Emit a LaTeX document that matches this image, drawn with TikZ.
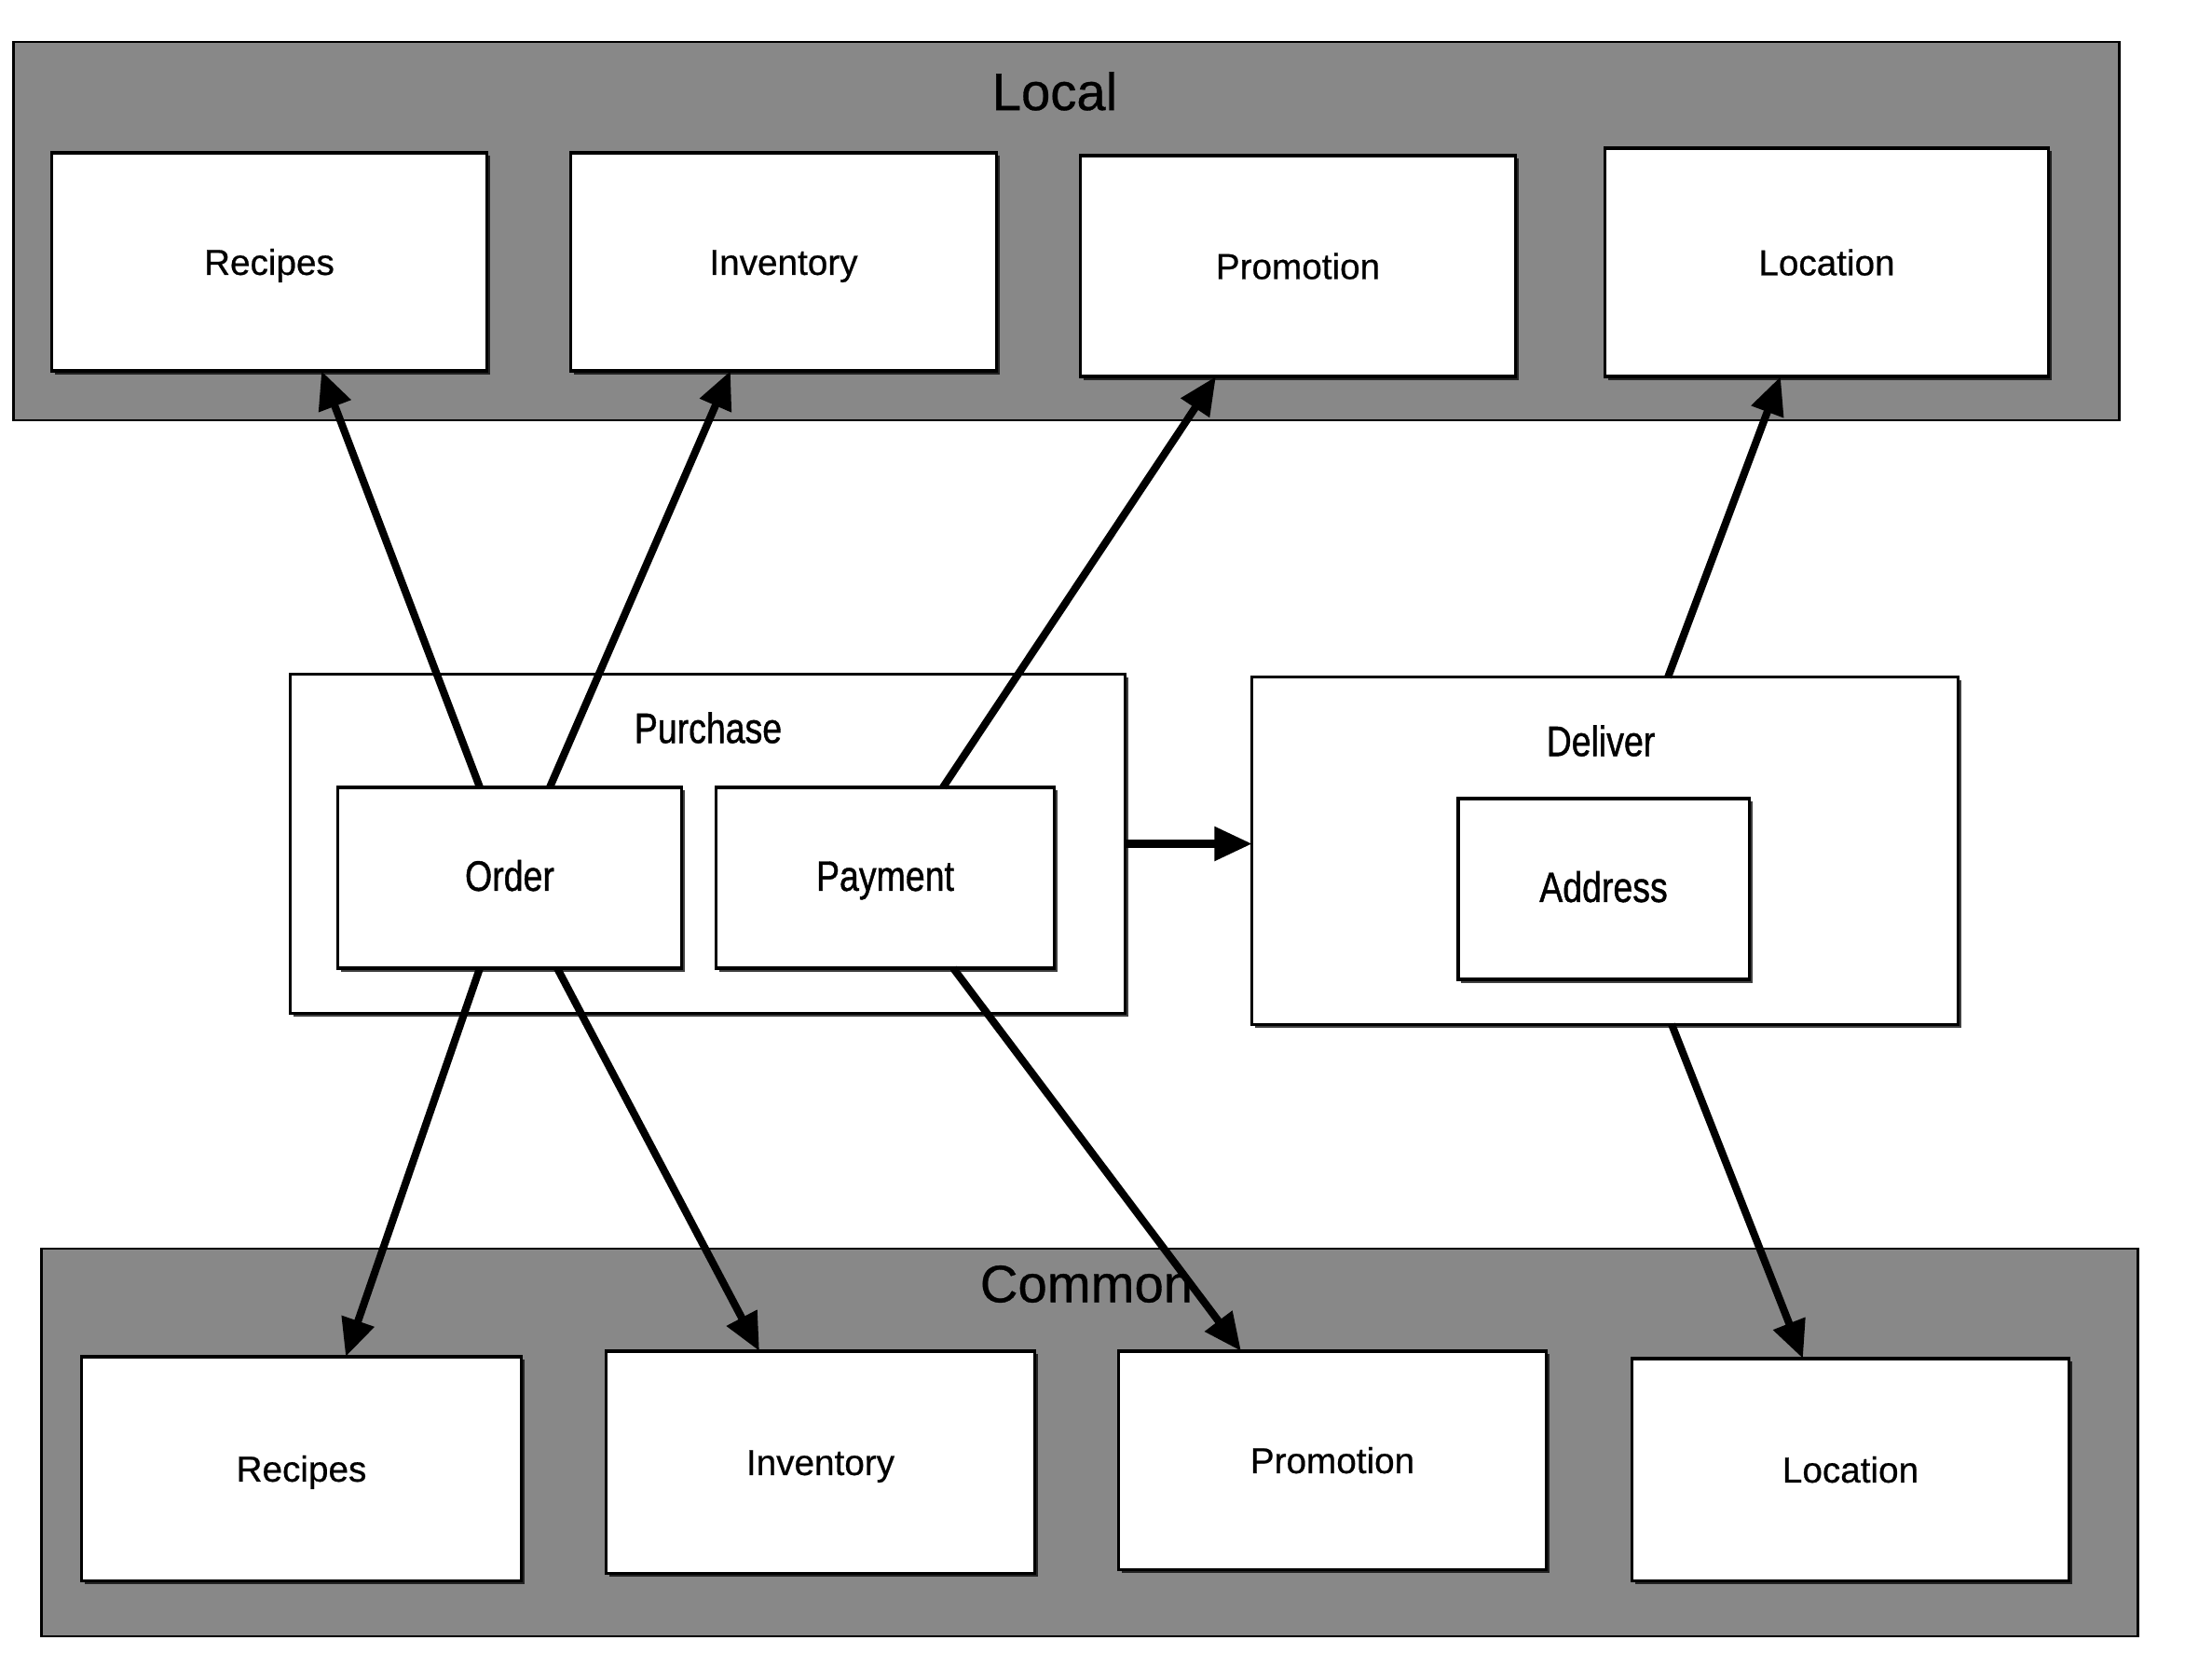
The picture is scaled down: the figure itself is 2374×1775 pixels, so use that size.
\documentclass[tikz,border=0pt]{standalone}
\usepackage{fontspec}
\setmainfont{Liberation Sans}[FakeBold=0.6]
\newfontfamily\condfont[FakeStretch=0.82,FakeBold=0.9]{Liberation Sans}
\usetikzlibrary{arrows.meta,shadows}
\definecolor{bandgray}{RGB}{136,136,136}
\begin{document}
\begin{tikzpicture}[x=0.01cm,y=-0.01cm,
  band/.style={draw=black, line width=0.7pt, fill=bandgray, inner sep=0pt, outer sep=0pt},
  box/.style={draw=black, line width=0.9pt, fill=white, inner sep=0pt, outer sep=0pt,
    font=\fontsize{11}{13}\selectfont, text height=1.6ex, text depth=0.1ex,
    drop shadow={shadow xshift=0.035cm, shadow yshift=-0.035cm, opacity=0.75, fill=black}},
  cbox/.style={box, font=\condfont\fontsize{13}{15}\selectfont},
  title/.style={font=\fontsize{16}{19}\selectfont, inner sep=0pt},
  ctitle/.style={font=\condfont\fontsize{13}{15}\selectfont, inner sep=0pt},
  arr/.style={line width=2.3pt, -{Triangle[length=11.5pt,width=10pt]}}]
\useasboundingbox (0,0) rectangle (2374,1775);
\fill[white] (0,0) rectangle (2374,1775);
% bands
\node[band, minimum width=22.59cm, minimum height=4.06cm] (localband) at (1144.5,248) {};
\node[band, minimum width=22.49cm, minimum height=4.16cm] (commonband) at (1169.5,1548) {};
\node[title] (localT) at (1132,98) {Local};
\node[title] (commonT) at (1166,1378) {Common};
% top boxes
\node[box, minimum width=4.66cm, minimum height=2.34cm] (recL) at (289,281) {Recipes};
\node[box, minimum width=4.56cm, minimum height=2.34cm] (invL) at (841,281) {Inventory};
\node[box, minimum width=4.66cm, minimum height=2.37cm] (proL) at (1393,285.5) {Promotion};
\node[box, minimum width=4.75cm, minimum height=2.45cm] (locL) at (1960.5,281.5) {Location};
% middle
\node[box, minimum width=8.95cm, minimum height=3.63cm] (purchase) at (759.5,905.5) {};
\node[ctitle] (purchaseT) at (760,781) {Purchase};
\node[cbox, minimum width=3.68cm, minimum height=1.94cm] (order) at (547,942) {Order};
\node[cbox, minimum width=3.62cm, minimum height=1.94cm] (payment) at (950,942) {Payment};
\node[box, minimum width=7.57cm, minimum height=3.72cm] (deliver) at (1722.5,913) {};
\node[ctitle] (deliverT) at (1718,795) {Deliver};
\node[cbox, minimum width=3.12cm, minimum height=1.94cm] (address) at (1721,954) {Address};
% bottom boxes
\node[box, minimum width=4.71cm, minimum height=2.40cm] (recC) at (323.5,1576) {Recipes};
\node[box, minimum width=4.59cm, minimum height=2.38cm] (invC) at (880.5,1569) {Inventory};
\node[box, minimum width=4.58cm, minimum height=2.34cm] (proC) at (1430,1567) {Promotion};
\node[box, minimum width=4.68cm, minimum height=2.38cm] (locC) at (1986,1577) {Location};
% arrows up
\draw[arr] ([xshift=-0.32cm]order.north) -- ([xshift=0.56cm]recL.south);
\draw[arr] ([xshift=0.43cm]order.north) -- ([xshift=-0.57cm]invL.south);
\draw[arr] ([xshift=0.62cm]payment.north) -- ([xshift=-0.88cm]proL.south);
\draw[arr] ([xshift=0.675cm]deliver.north) -- ([xshift=-0.495cm]locL.south);
% purchase -> deliver
\draw[arr] (purchase.east) -- (purchase.east -| deliver.west);
% arrows down
\draw[arr] ([xshift=-0.32cm]order.south) -- ([xshift=0.475cm]recC.north);
\draw[arr] ([xshift=0.51cm]order.south) -- ([xshift=-0.655cm]invC.north);
\draw[arr] ([xshift=0.73cm]payment.south) -- ([xshift=-0.98cm]proC.north);
\draw[arr] ([xshift=0.715cm]deliver.south) -- ([xshift=-0.51cm]locC.north);
\end{tikzpicture}
\end{document}
